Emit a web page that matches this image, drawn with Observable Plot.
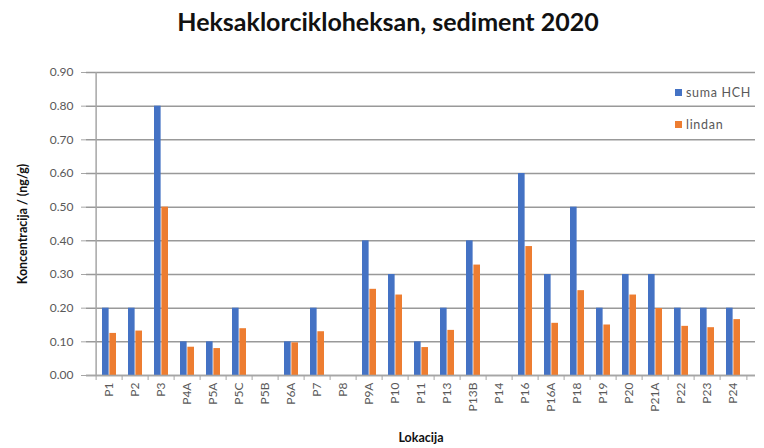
<!DOCTYPE html>
<html>
<head>
<meta charset="utf-8">
<script src="https://cdn.jsdelivr.net/npm/d3@7"></script>
<script src="https://cdn.jsdelivr.net/npm/@observablehq/plot@0.6"></script>
<style>
  html, body { margin: 0; padding: 0; background: #fff; }
  #wrap { position: relative; width: 764px; height: 448px; font-family: Lato, "Open Sans", sans-serif; }
  #title { position: absolute; top: 5px; left: 0; width: 776px; text-align: center; font-weight: bold; font-size: 25px; line-height: 32px; color: #111; }
  #legend { position: absolute; left: 675px; top: 84px; font-size: 12.5px; letter-spacing: 0.7px; color: #595959; }
  #legend div { display: flex; align-items: center; height: 17px; margin-bottom: 15px; }
  #legend span.sw { display: inline-block; width: 7px; height: 7px; margin-right: 4px; }
</style>
</head>
<body>
<div id="wrap">
  <div id="title">Heksaklorcikloheksan, sediment 2020</div>
  <div id="chart"></div>
  <div id="legend"></div>
</div>
<script>
const locations = ["P1","P2","P3","P4A","P5A","P5C","P5B","P6A","P7","P8","P9A","P10","P11","P13","P13B","P14","P16","P16A","P18","P19","P20","P21A","P22","P23","P24"];
const sumaHCH = [0.2,0.2,0.8,0.1,0.1,0.2,null,0.1,0.2,null,0.4,0.3,0.1,0.2,0.4,null,0.6,0.3,0.5,0.2,0.3,0.3,0.2,0.2,0.2];
const lindan  = [0.125,0.132,0.5,0.084,0.08,0.139,null,0.097,0.13,null,0.256,0.239,0.083,0.134,0.328,null,0.383,0.155,0.252,0.15,0.239,0.199,0.146,0.142,0.166];
const seriesNames = ["suma HCH", "lindan"];
const seriesColors = ["#4472C4", "#ED7D31"];
const yTicks = [0,0.1,0.2,0.3,0.4,0.5,0.6,0.7,0.8,0.9];

const rowsHCH = locations.map((loc, i) => ({loc, v: sumaHCH[i]})).filter(d => d.v != null);
const rowsLin = locations.map((loc, i) => ({loc, v: lindan[i]})).filter(d => d.v != null);
const half = (764 - 86 - 9) / locations.length / 2;

const chart = Plot.plot({
  width: 764,
  height: 448,
  marginTop: 72,
  marginBottom: 73,
  marginLeft: 86,
  marginRight: 9,
  style: {fontFamily: "Lato, 'Open Sans', sans-serif", fontSize: "12px", color: "#595959", background: "transparent"},
  x: {domain: locations, padding: 0, label: null},
  y: {domain: [0, 0.9], label: null},
  marks: [
    Plot.ruleY(yTicks, {stroke: "#999", strokeWidth: 1.5}),
    Plot.barY(rowsHCH, {x: "loc", y: "v", fill: seriesColors[0], insetLeft: 6, insetRight: half}),
    Plot.barY(rowsLin, {x: "loc", y: "v", fill: seriesColors[1], insetLeft: half, insetRight: 6}),
    Plot.ruleY([0], {stroke: "#a6a6a6", strokeWidth: 1.5}),
    Plot.ruleX([locations[0]], {dx: -half, stroke: "#a6a6a6", strokeWidth: 1.5}),
    Plot.ruleX(locations, {x: d => d, dx: -half, y1: 0, y2: 0, insetBottom: -5, stroke: "#a6a6a6", strokeWidth: 1}),
    Plot.ruleX([locations[locations.length - 1]], {dx: half, y1: 0, y2: 0, insetBottom: -5, stroke: "#a6a6a6", strokeWidth: 1}),
    Plot.axisY({ticks: yTicks, tickFormat: d => d.toFixed(2), tickSize: 5, tickPadding: 8, stroke: "#a6a6a6",
      label: "Koncentracija / (ng/g)", labelAnchor: "center", labelArrow: "none", labelOffset: 68}),
    Plot.axisX({tickRotate: -90, tickSize: 0, tickPadding: 7,
      label: "Lokacija", labelAnchor: "center", labelArrow: "none", labelOffset: 66})
  ]
});
document.getElementById("chart").appendChild(chart);

chart.querySelectorAll("g[aria-label='y-axis label'] text, g[aria-label='x-axis label'] text").forEach(t => {
  t.setAttribute("font-weight", "bold");
  t.setAttribute("fill", "#111");
  t.style.fontSize = "12.5px";
});

const legend = document.getElementById("legend");
seriesNames.forEach((name, i) => {
  const row = document.createElement("div");
  const sw = document.createElement("span");
  sw.className = "sw";
  sw.style.background = seriesColors[i];
  row.appendChild(sw);
  row.appendChild(document.createTextNode(name));
  legend.appendChild(row);
});
</script>
</body>
</html>
